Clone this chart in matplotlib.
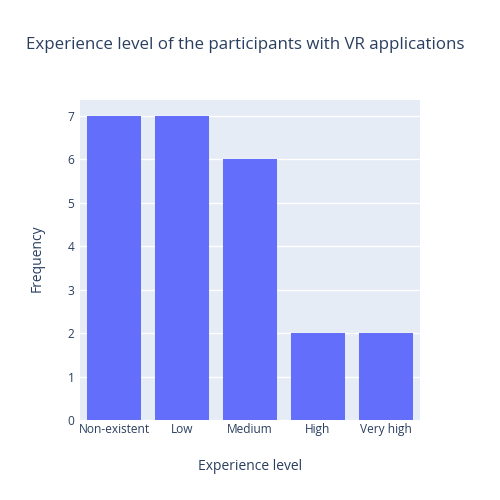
import matplotlib.pyplot as plt

levels = ["Non-existent", "Low", "Medium", "High", "Very high"]
counts = [7, 7, 6, 2, 2]

plt.rcParams['font.family'] = ['Open Sans', 'DejaVu Sans']
text_col = "#2a3f5f"

fig = plt.figure(figsize=(5, 5), dpi=100)
ax = fig.add_axes([0.16, 0.16, 0.68, 0.64])
ax.set_facecolor("#e5ecf6")

ax.bar(range(len(levels)), counts, width=0.8, color="#636efa", zorder=3)

ax.set_xlim(-0.5, len(levels) - 0.5)
ax.set_ylim(0, 7.37)
ax.set_yticks(range(0, 8))
ax.set_xticks(range(len(levels)))
ax.set_xticklabels(levels)
ax.grid(axis="y", color="white", linewidth=1, zorder=0)
for s in ax.spines.values():
    s.set_visible(False)
ax.tick_params(length=0, labelsize=8.6, labelcolor=text_col)
ax.tick_params(axis="x", pad=2)
ax.tick_params(axis="y", pad=4)

fig.text(0.49, 0.91, "Experience level of the participants with VR applications",
         ha="center", va="center", fontsize=12.2, color=text_col)
fig.text(0.5, 0.066, "Experience level", ha="center", va="center", fontsize=10, color=text_col)
fig.text(0.074, 0.484, "Frequency", ha="center", va="center", rotation=90,
         fontsize=10, color=text_col)

fig.savefig("out.png", dpi=100)
